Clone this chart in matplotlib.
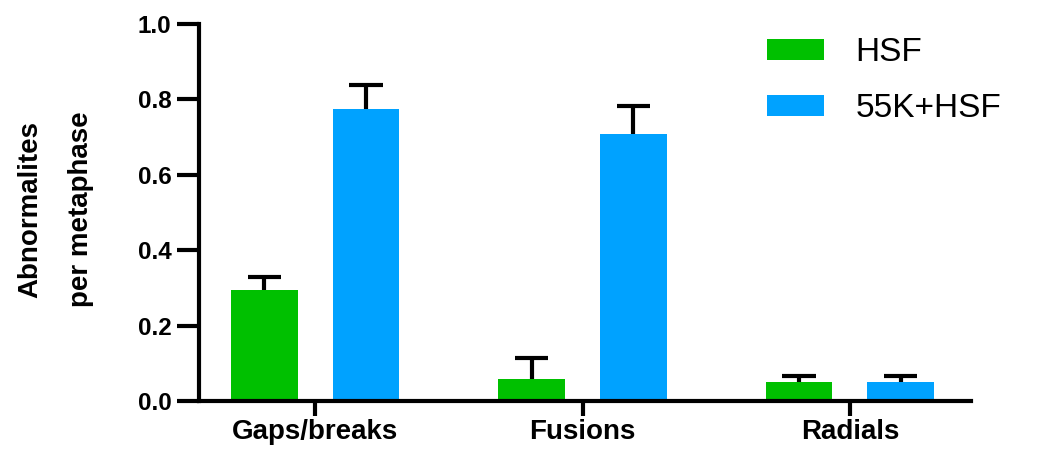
import numpy as np
import matplotlib
matplotlib.use("Agg")
import matplotlib.pyplot as plt
from matplotlib.patches import Patch

categories = ["Gaps/breaks", "Fusions", "Radials"]
series_names = ["HSF", "55K+HSF"]
hsf_values = [0.294, 0.058, 0.049]
hsf_err = [0.036, 0.057, 0.016]
k55_values = [0.774, 0.707, 0.049]
k55_err = [0.064, 0.074, 0.016]
yticks = [0.0, 0.2, 0.4, 0.6, 0.8, 1.0]

colors = ["#00C000", "#00A2FF"]

plt.rcParams['font.family'] = ['Liberation Sans', 'DejaVu Sans']

fig = plt.figure(figsize=(10.48, 4.5), dpi=100)
ax = fig.add_axes([0.19, 0.109, 0.7365, 0.838])

x = np.arange(len(categories))
w = 0.25
off = 0.19
cap = 0.124
for i, (vals, errs) in enumerate([(hsf_values, hsf_err), (k55_values, k55_err)]):
    pos = x + (-off if i == 0 else off)
    vals = np.array(vals)
    errs = np.array(errs)
    ax.bar(pos, vals, width=w, color=colors[i], zorder=2)
    ax.vlines(pos, vals, vals + errs, colors='black', linewidth=3, zorder=1)
    ax.hlines(vals + errs, pos - cap / 2, pos + cap / 2, colors='black',
              linewidth=3, zorder=1)

ax.set_xlim(-0.434, 2.453)
ax.set_ylim(0, 1.0)
ax.set_yticks(yticks)
ax.set_yticklabels([f"{t:.1f}" for t in yticks], fontsize=17.5, fontweight='bold')
ax.set_xticks(x)
ax.set_xticklabels(categories, fontsize=20, fontweight='bold')

for s in ['top', 'right']:
    ax.spines[s].set_visible(False)
for s in ['left', 'bottom']:
    ax.spines[s].set_linewidth(3)
ax.tick_params(axis='y', length=16, width=3, pad=4)
ax.tick_params(axis='x', length=11, width=3, pad=2)

fig.text(0.029, 0.535, "Abnormalites", rotation=90, ha='center', va='center',
         fontsize=20, fontweight='bold')
fig.text(0.077, 0.535, "per metaphase", rotation=90, ha='center', va='center',
         fontsize=20, fontweight='bold')

handles = [Patch(facecolor=c, edgecolor='none') for c in colors]
leg = ax.legend(handles, series_names, loc='upper left', bbox_to_anchor=(0.736, 0.965),
                frameon=False, fontsize=24, handlelength=1.7, handleheight=0.6,
                handletextpad=0.95, labelspacing=0.75, borderpad=0, borderaxespad=0)

fig.savefig("out.png", dpi=100)
